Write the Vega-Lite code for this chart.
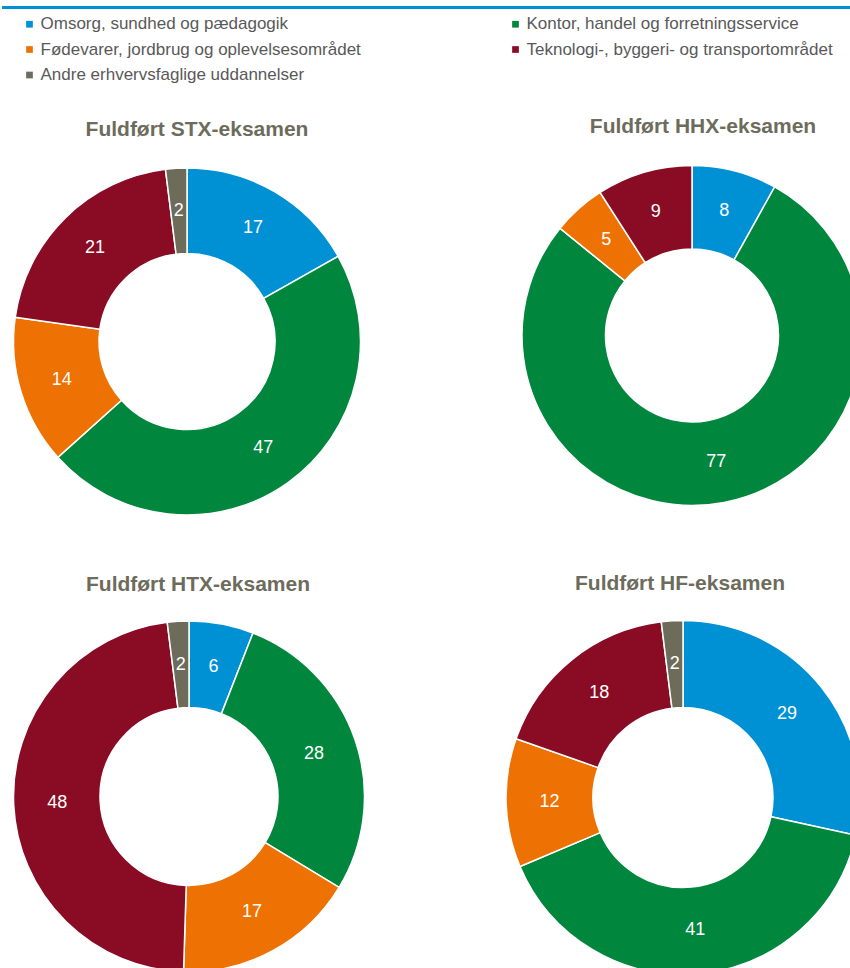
{
  "$schema": "https://vega.github.io/schema/vega-lite/v6.json",
  "padding": {"left": 0, "top": 5.5, "right": 0, "bottom": 0},
  "background": "#ffffff",
  "datasets": {
    "shares": [
      {"chart": "STX", "cat": "Omsorg, sundhed og pædagogik", "idx": 1, "value": 17},
      {"chart": "STX", "cat": "Kontor, handel og forretningsservice", "idx": 2, "value": 47},
      {"chart": "STX", "cat": "Fødevarer, jordbrug og oplevelsesområdet", "idx": 3, "value": 14},
      {"chart": "STX", "cat": "Teknologi-, byggeri- og transportområdet", "idx": 4, "value": 21},
      {"chart": "STX", "cat": "Andre erhvervsfaglige uddannelser", "idx": 5, "value": 2},
      {"chart": "HHX", "cat": "Omsorg, sundhed og pædagogik", "idx": 1, "value": 8},
      {"chart": "HHX", "cat": "Kontor, handel og forretningsservice", "idx": 2, "value": 77},
      {"chart": "HHX", "cat": "Fødevarer, jordbrug og oplevelsesområdet", "idx": 3, "value": 5},
      {"chart": "HHX", "cat": "Teknologi-, byggeri- og transportområdet", "idx": 4, "value": 9},
      {"chart": "HTX", "cat": "Omsorg, sundhed og pædagogik", "idx": 1, "value": 6},
      {"chart": "HTX", "cat": "Kontor, handel og forretningsservice", "idx": 2, "value": 28},
      {"chart": "HTX", "cat": "Fødevarer, jordbrug og oplevelsesområdet", "idx": 3, "value": 17},
      {"chart": "HTX", "cat": "Teknologi-, byggeri- og transportområdet", "idx": 4, "value": 48},
      {"chart": "HTX", "cat": "Andre erhvervsfaglige uddannelser", "idx": 5, "value": 2},
      {"chart": "HF", "cat": "Omsorg, sundhed og pædagogik", "idx": 1, "value": 29},
      {"chart": "HF", "cat": "Kontor, handel og forretningsservice", "idx": 2, "value": 41},
      {"chart": "HF", "cat": "Fødevarer, jordbrug og oplevelsesområdet", "idx": 3, "value": 12},
      {"chart": "HF", "cat": "Teknologi-, byggeri- og transportområdet", "idx": 4, "value": 18},
      {"chart": "HF", "cat": "Andre erhvervsfaglige uddannelser", "idx": 5, "value": 2}
    ],
    "topline": [{"start": 0, "end": 850, "level": 1}]
  },
  "bounds": "flush",
  "columns": 2,
  "spacing": {"row": 80, "column": 120},
  "resolve": {"scale": {"theta": "independent", "color": "shared"}, "legend": {"color": "shared"}},
  "concat": [
    {
      "width": 374,
      "height": 64.5,
      "data": {"name": "topline"},
      "mark": {"type": "rule", "color": "#0091d5", "strokeWidth": 3},
      "encoding": {
        "x": {"field": "start", "type": "quantitative", "scale": {"domain": [0, 850], "range": [0, 850]}, "axis": null},
        "x2": {"field": "end"},
        "y": {"field": "level", "type": "quantitative", "scale": {"domain": [0, 1]}, "axis": null}
      }
    },
    {
      "width": 392,
      "height": 64.5,
      "data": {"name": "topline"},
      "mark": {"type": "rule", "color": "#0091d5", "strokeWidth": 3, "opacity": 0},
      "encoding": {
        "x": {"field": "start", "type": "quantitative", "scale": {"domain": [0, 850], "range": [0, 850]}, "axis": null},
        "x2": {"field": "end"},
        "y": {"field": "level", "type": "quantitative", "scale": {"domain": [0, 1]}, "axis": null}
      }
    },
    {
      "width": 370,
      "height": 378,
      "data": {"name": "shares"},
      "title": {"text": "Fuldført STX-eksamen", "offset": 13, "dx": 10},
      "transform": [{"filter": "datum.chart === 'STX'"}],
      "encoding": {
        "theta": {"field": "value", "type": "quantitative", "stack": true},
        "order": {"field": "idx", "type": "quantitative"},
        "color": {
          "field": "cat", "type": "nominal", "title": null,
          "scale": {
            "domain": ["Omsorg, sundhed og pædagogik", "Fødevarer, jordbrug og oplevelsesområdet", "Andre erhvervsfaglige uddannelser", "Kontor, handel og forretningsservice", "Teknologi-, byggeri- og transportområdet"],
            "range": ["#0091d5", "#ee7203", "#6d6b5a", "#00863d", "#8a0c24"]
          }
        }
      },
      "layer": [
        {"mark": {"type": "arc", "outerRadius": 173.5, "innerRadius": 88, "stroke": "#ffffff", "strokeWidth": 1.5}},
        {"mark": {"type": "text", "radius": 131, "fontSize": 18, "font": "Liberation Sans"},
         "encoding": {"text": {"field": "value", "type": "quantitative"}, "color": {"value": "#ffffff"}}}
      ]
    },
    {
      "width": 392,
      "height": 366,
      "data": {"name": "shares"},
      "title": {"text": "Fuldført HHX-eksamen", "offset": 16, "dx": 11},
      "transform": [{"filter": "datum.chart === 'HHX'"}],
      "encoding": {
        "theta": {"field": "value", "type": "quantitative", "stack": true},
        "order": {"field": "idx", "type": "quantitative"},
        "color": {
          "field": "cat", "type": "nominal", "title": null,
          "scale": {
            "domain": ["Omsorg, sundhed og pædagogik", "Fødevarer, jordbrug og oplevelsesområdet", "Andre erhvervsfaglige uddannelser", "Kontor, handel og forretningsservice", "Teknologi-, byggeri- og transportområdet"],
            "range": ["#0091d5", "#ee7203", "#6d6b5a", "#00863d", "#8a0c24"]
          }
        }
      },
      "layer": [
        {"mark": {"type": "arc", "outerRadius": 170, "innerRadius": 86.5, "stroke": "#ffffff", "strokeWidth": 1.5}},
        {"mark": {"type": "text", "radius": 128.5, "fontSize": 18, "font": "Liberation Sans"},
         "encoding": {"text": {"field": "value", "type": "quantitative"}, "color": {"value": "#ffffff"}}}
      ]
    },
    {
      "width": 374,
      "height": 372,
      "data": {"name": "shares"},
      "title": {"text": "Fuldført HTX-eksamen", "offset": 16, "dx": 9},
      "transform": [{"filter": "datum.chart === 'HTX'"}],
      "encoding": {
        "theta": {"field": "value", "type": "quantitative", "stack": true},
        "order": {"field": "idx", "type": "quantitative"},
        "color": {
          "field": "cat", "type": "nominal", "title": null,
          "scale": {
            "domain": ["Omsorg, sundhed og pædagogik", "Fødevarer, jordbrug og oplevelsesområdet", "Andre erhvervsfaglige uddannelser", "Kontor, handel og forretningsservice", "Teknologi-, byggeri- og transportområdet"],
            "range": ["#0091d5", "#ee7203", "#6d6b5a", "#00863d", "#8a0c24"]
          }
        }
      },
      "layer": [
        {"mark": {"type": "arc", "outerRadius": 175.5, "innerRadius": 89, "stroke": "#ffffff", "strokeWidth": 1.5}},
        {"mark": {"type": "text", "radius": 132, "fontSize": 18, "font": "Liberation Sans"},
         "encoding": {"text": {"field": "value", "type": "quantitative"}, "color": {"value": "#ffffff"}}}
      ]
    },
    {
      "width": 374,
      "height": 374,
      "data": {"name": "shares"},
      "title": {"text": "Fuldført HF-eksamen", "offset": 17, "dx": -3},
      "transform": [{"filter": "datum.chart === 'HF'"}],
      "encoding": {
        "theta": {"field": "value", "type": "quantitative", "stack": true},
        "order": {"field": "idx", "type": "quantitative"},
        "color": {
          "field": "cat", "type": "nominal", "title": null,
          "scale": {
            "domain": ["Omsorg, sundhed og pædagogik", "Fødevarer, jordbrug og oplevelsesområdet", "Andre erhvervsfaglige uddannelser", "Kontor, handel og forretningsservice", "Teknologi-, byggeri- og transportområdet"],
            "range": ["#0091d5", "#ee7203", "#6d6b5a", "#00863d", "#8a0c24"]
          }
        }
      },
      "layer": [
        {"mark": {"type": "arc", "outerRadius": 177, "innerRadius": 90, "stroke": "#ffffff", "strokeWidth": 1.5}},
        {"mark": {"type": "text", "radius": 133.5, "fontSize": 18, "font": "Liberation Sans"},
         "encoding": {"text": {"field": "value", "type": "quantitative"}, "color": {"value": "#ffffff"}}}
      ]
    }
  ],
  "config": {
    "view": {"stroke": null},
    "font": "Liberation Sans",
    "title": {"fontSize": 21, "fontWeight": "bold", "color": "#6d6c5c", "font": "Liberation Sans", "anchor": "middle"},
    "legend": {
      "orient": "none",
      "legendX": 19,
      "legendY": 8,
      "columns": 2,
      "columnPadding": 146,
      "rowPadding": 7.5,
      "symbolType": "square",
      "symbolSize": 45,
      "symbolStrokeWidth": 0,
      "labelFontSize": 17,
      "labelColor": "#595959",
      "labelFont": "Liberation Sans",
      "labelLimit": 500,
      "labelOffset": 2.5,
      "padding": 0
    }
  }
}
